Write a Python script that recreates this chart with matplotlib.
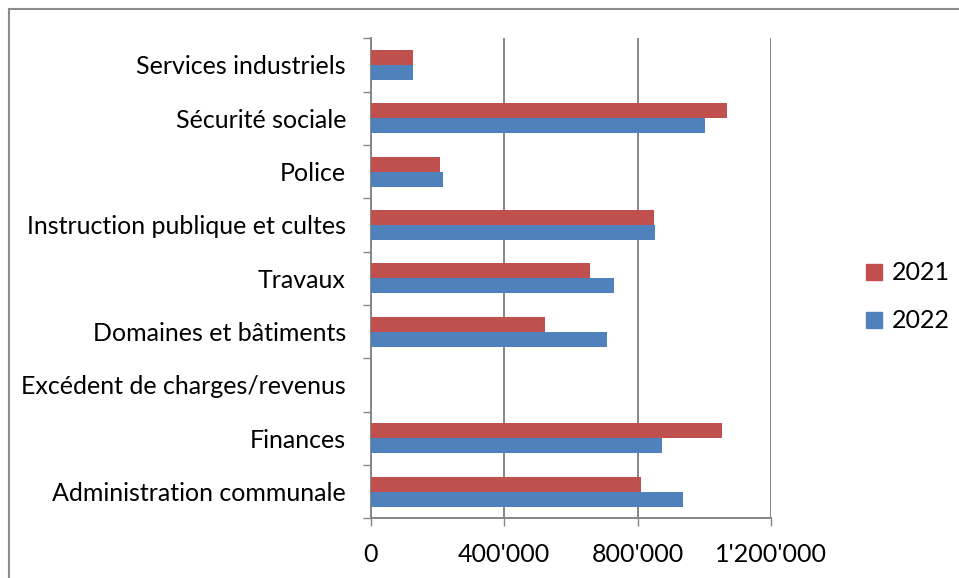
import matplotlib
matplotlib.use("Agg")
import matplotlib.pyplot as plt
from matplotlib.patches import Patch, Rectangle
import numpy as np

categories = ["Administration communale", "Finances", "Excédent de charges/revenus",
              "Domaines et bâtiments", "Travaux", "Instruction publique et cultes",
              "Police", "Sécurité sociale", "Services industriels"]
values_2021 = [811000, 1054000, 0, 523000, 657000, 848000, 208000, 1068000, 125000]
values_2022 = [936000, 873000, 0, 708000, 728000, 851000, 215000, 1003000, 125000]
series_labels = ["2021", "2022"]
xticks = [0, 400000, 800000, 1200000]
xtick_labels = ["0", "400'000", "800'000", "1'200'000"]

RED = "#C0504D"
BLUE = "#4F81BD"
GRID = "#868686"

plt.rcParams['font.family'] = ['Lato', 'DejaVu Sans']
FS = 18

W, H = 959, 578
fig = plt.figure(figsize=(W / 100, H / 100), dpi=100)
ax = fig.add_axes([371 / W, (H - 518.3) / H, (771 - 371) / W, (518.3 - 38.3) / H])

y = np.arange(len(categories))
bh = 0.281
ax.barh(y + bh / 2, values_2021, height=bh, color=RED, linewidth=0, zorder=3)
ax.barh(y - bh / 2, values_2022, height=bh, color=BLUE, linewidth=0, zorder=3)

ax.set_xlim(0, 1200000)
ax.set_ylim(-0.5, len(categories) - 0.5)

ax.set_xticks(xticks)
ax.set_xticklabels(xtick_labels, fontsize=FS)
ax.tick_params(axis='x', direction='out', length=6, width=1, color=GRID, pad=12)
ax.xaxis.grid(True, color=GRID, linewidth=1.4, zorder=0)

ax.set_yticks(y)
ax.set_yticklabels(categories, fontsize=FS)
ax.tick_params(axis='y', which='major', length=0, pad=18)
ax.set_yticks(np.arange(-0.5, len(categories), 1.0), minor=True)
ax.tick_params(axis='y', which='minor', direction='out', length=6, width=1, color=GRID)

for s in ['top', 'right']:
    ax.spines[s].set_visible(False)
for s in ['left', 'bottom']:
    ax.spines[s].set_color(GRID)
    ax.spines[s].set_linewidth(1.4)

handles = [Patch(facecolor=RED, edgecolor=RED), Patch(facecolor=BLUE, edgecolor=BLUE)]
fig.legend(handles, series_labels, loc='center left', bbox_to_anchor=(866 / W, 1 - 297 / H),
           frameon=False, fontsize=FS, handlelength=0.62, handleheight=0.62,
           handletextpad=0.4, labelspacing=1.0, borderpad=0, borderaxespad=0)

fig.patches.append(Rectangle((9 / W, -0.1), 1.2, 1.1 - 9 / H, transform=fig.transFigure,
                             fill=False, edgecolor="#8C8C8C", linewidth=1.5))

fig.savefig("out.png", dpi=100)
